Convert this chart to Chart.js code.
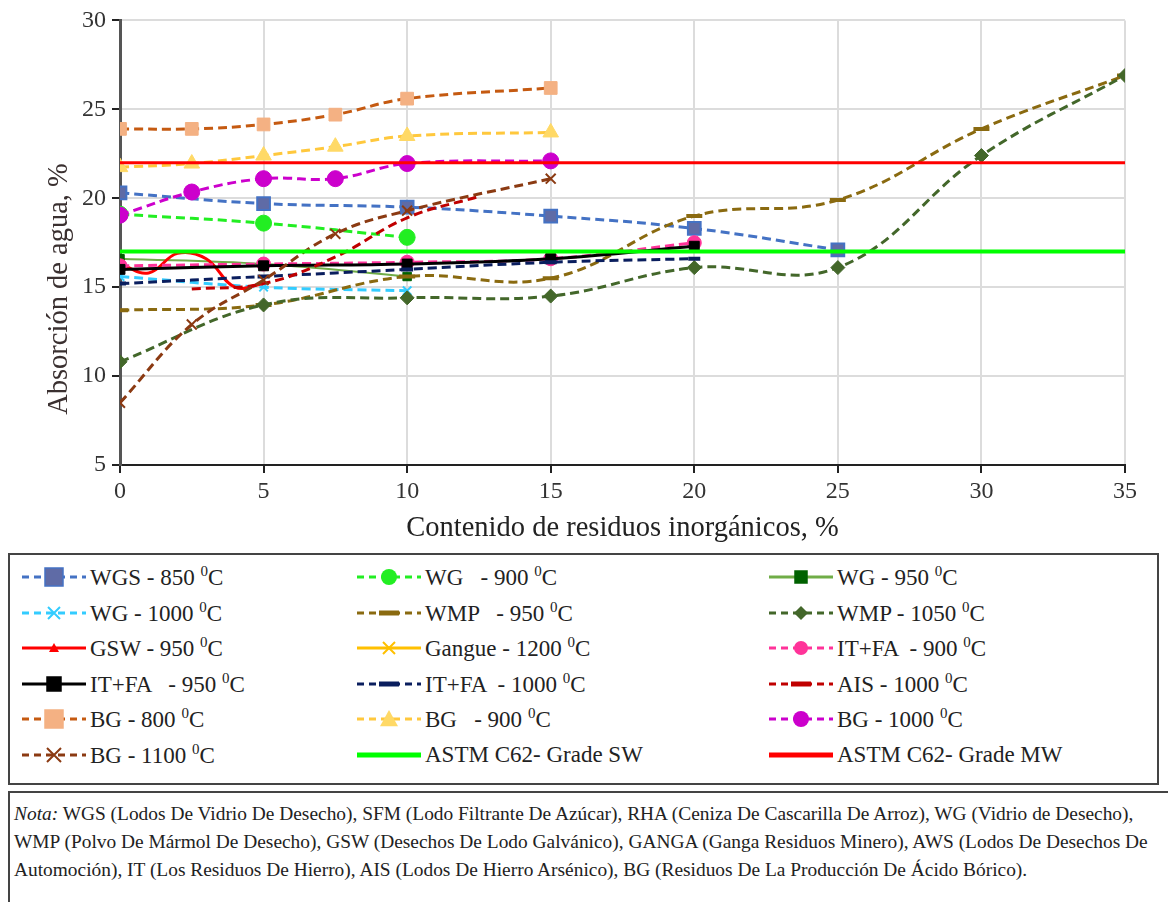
<!DOCTYPE html>
<html>
<head>
<meta charset="utf-8">
<script src="https://cdn.jsdelivr.net/npm/chart.js@4"></script>
<style>
  body { margin: 0; background: #fff; font-family: 'Liberation Serif', 'DejaVu Serif', 'Times New Roman', serif; }
  #wrap { position: absolute; left: 0; top: 0; width: 1171px; height: 550px; }
  #legend { position: absolute; left: 8px; top: 553px; width: 1151px; height: 232px; border: 2px solid #444; box-sizing: border-box; background: #fff; }
  .item { position: absolute; height: 24px; display: flex; align-items: center; font-size: 23px; color: #222; white-space: nowrap; }
  .item svg { margin-right: 2px; }
  sup { font-size: 15px; }
  #nota { position: absolute; left: 8px; top: 791px; width: 1160px; height: 130px; border-left: 2px solid #444; border-top: 2px solid #444; box-sizing: border-box; padding: 7px 0 0 4px; font-size: 19.4px; line-height: 28px; color: #222; white-space: nowrap; }
</style>
</head>
<body>
<div id="wrap"><canvas id="c" width="1171" height="550"></canvas></div>
<div id="legend"></div>
<div id="nota"><i>Nota:</i> WGS (Lodos De Vidrio De Desecho), SFM (Lodo Filtrante De Azúcar), RHA (Ceniza De Cascarilla De Arroz), WG (Vidrio de Desecho),<br>WMP (Polvo De Mármol De Desecho), GSW (Desechos De Lodo Galvánico), GANGA (Ganga Residuos Minero), AWS (Lodos De Desechos De<br>Automoción), IT (Los Residuos De Hierro), AIS (Lodos De Hierro Arsénico), BG (Residuos De La Producción De Ácido Bórico).</div>
<script>
// values
const xWGS850 = [0, 5, 10, 15, 20, 25];
const yWGS850 = [20.3, 19.7, 19.5, 19.0, 18.3, 17.1];
const xWG900 = [0, 5, 10];
const yWG900 = [19.1, 18.6, 17.8];
const xWG950 = [0, 5, 10];
const yWG950 = [16.6, 16.3, 15.6];
const xWG1000 = [0, 5, 10];
const yWG1000 = [15.6, 15.0, 14.8];
const xWMP950 = [0, 5, 10, 15, 20, 25, 30, 35];
const yWMP950 = [13.7, 14.0, 15.6, 15.5, 19.0, 19.9, 23.9, 26.9];
const xWMP1050 = [0, 5, 10, 15, 20, 25, 30, 35];
const yWMP1050 = [10.8, 14.0, 14.4, 14.5, 16.1, 16.1, 22.4, 26.9];
const xGSW950 = [0, 1, 2, 3, 4, 5];
const yGSW950 = [16.3, 15.8, 16.9, 16.6, 15.0, 15.2];
const xGangue = [];
const yGangue = [];
const xITFA900 = [0, 5, 10, 15, 20];
const yITFA900 = [16.2, 16.3, 16.4, 16.6, 17.5];
const xITFA950 = [0, 5, 10, 15, 20];
const yITFA950 = [16.0, 16.2, 16.3, 16.6, 17.3];
const xITFA1000 = [0, 5, 10, 15, 20];
const yITFA1000 = [15.2, 15.6, 16.0, 16.4, 16.6];
const xAIS1000 = [2.5, 5, 7.5, 10, 12.5];
const yAIS1000 = [14.9, 15.2, 16.7, 18.9, 20.1];
const xBG = [0, 2.5, 5, 7.5, 10, 15];
const yBG800 = [23.9, 23.9, 24.15, 24.7, 25.6, 26.2];
const yBG900 = [21.75, 21.95, 22.4, 22.9, 23.5, 23.7];
const yBG1000 = [19.05, 20.35, 21.1, 21.1, 21.95, 22.1];
const yBG1100 = [8.5, 12.9, 15.4, 18.0, 19.3, 21.1];
const xASTM = [0, 35];
const yASTMSW = [17, 17];
const yASTMMW = [22, 22];

const xTicks = [0, 5, 10, 15, 20, 25, 30, 35];
const yTicks = [5, 10, 15, 20, 25, 30];

const pts = (xs, ys) => xs.map((x, i) => ({ x: x, y: ys[i] }));
const dash = [9, 5];

function series(label, xs, ys, color, opts) {
    return Object.assign({
        label: label,
        data: pts(xs, ys),
        borderColor: color,
        backgroundColor: color,
        pointBorderColor: color,
        borderWidth: 3,
        borderDash: dash,
        pointStyle: 'circle',
        pointRadius: 6,
        pointBorderWidth: 1,
        tension: 0.4
    }, opts || {});
}

const datasets = [
    series('WGS - 850 <sup>0</sup>C', xWGS850, yWGS850, '#4472C4', { pointStyle: 'rect', pointRadius: 9, backgroundColor: '#5F6BA6', pointBorderColor: '#4472C4', pointBorderWidth: 2 }),
    series('WG &nbsp;&nbsp;- 900 <sup>0</sup>C', xWG900, yWG900, '#22EE22', { pointRadius: 8 }),
    series('WG - 950 <sup>0</sup>C', xWG950, yWG950, '#70AD47', { borderDash: [], borderWidth: 2, pointStyle: 'rect', pointRadius: 6, backgroundColor: '#006100', pointBorderColor: '#006100' }),
    series('WG - 1000 <sup>0</sup>C', xWG1000, yWG1000, '#33CCFF', { pointStyle: 'crossRot', pointRadius: 6, pointBorderWidth: 2 }),
    series('WMP &nbsp;&nbsp;- 950 <sup>0</sup>C', xWMP950, yWMP950, '#8A6A10', { pointStyle: 'line', pointRadius: 8, pointBorderWidth: 4 }),
    series('WMP - 1050 <sup>0</sup>C', xWMP1050, yWMP1050, '#43672A', { pointStyle: 'rectRot', pointRadius: 7 }),
    series('GSW - 950 <sup>0</sup>C', xGSW950, yGSW950, '#FF0000', { borderDash: [], borderWidth: 3, pointStyle: 'triangle', pointRadius: 0 }),
    series('Gangue - 1200 <sup>0</sup>C', xGangue, yGangue, '#FFC000', { borderDash: [], borderWidth: 2, pointStyle: 'crossRot', pointRadius: 6, pointBorderWidth: 2 }),
    series('IT+FA &nbsp;- 900 <sup>0</sup>C', xITFA900, yITFA900, '#FF3399', { pointRadius: 7 }),
    series('IT+FA &nbsp;&nbsp;- 950 <sup>0</sup>C', xITFA950, yITFA950, '#000000', { borderDash: [], borderWidth: 3, pointStyle: 'rect', pointRadius: 7 }),
    series('IT+FA &nbsp;- 1000 <sup>0</sup>C', xITFA1000, yITFA1000, '#0A1E5E', { pointStyle: 'line', pointRadius: 6, pointBorderWidth: 4 }),
    series('AIS - 1000 <sup>0</sup>C', xAIS1000, yAIS1000, '#C00000', { pointStyle: 'line', pointRadius: 0, pointBorderWidth: 4 }),
    series('BG - 800 <sup>0</sup>C', xBG, yBG800, '#C55A11', { pointStyle: 'rect', pointRadius: 9, backgroundColor: '#F4B183', pointBorderColor: '#F4B183' }),
    series('BG &nbsp;&nbsp;- 900 <sup>0</sup>C', xBG, yBG900, '#FFC83D', { pointStyle: 'triangle', pointRadius: 9, backgroundColor: '#FFD966', pointBorderColor: '#FFD966' }),
    series('BG - 1000 <sup>0</sup>C', xBG, yBG1000, '#CC00CC', { pointRadius: 8 }),
    series('BG - 1100 <sup>0</sup>C', xBG, yBG1100, '#8B3A12', { pointStyle: 'crossRot', pointRadius: 7, pointBorderWidth: 2 }),
    series('ASTM C62- Grade SW', xASTM, yASTMSW, '#00FF00', { borderDash: [], borderWidth: 4, pointRadius: 0, tension: 0 }),
    series('ASTM C62- Grade MW', xASTM, yASTMMW, '#FF0000', { borderDash: [], borderWidth: 3, pointRadius: 0, tension: 0 })
];
// later series are painted on top, like the original
datasets.forEach((d, i) => { d.order = datasets.length - i; });

const serif = "'Liberation Serif', 'DejaVu Serif', 'Times New Roman', serif";
// the y title sits a little below the middle in the original
const yTitle = 'Absorción de agua, %' + '\u00a0'.repeat(13);

new Chart(document.getElementById('c'), {
    type: 'line',
    data: { datasets: datasets },
    options: {
        responsive: false,
        animation: false,
        layout: { padding: { top: 20, right: 46, left: 38, bottom: 0 } },
        plugins: { legend: { display: false }, tooltip: { enabled: false } },
        scales: {
            x: {
                type: 'linear', min: 0, max: 35,
                afterBuildTicks: (s) => { s.ticks = xTicks.map(v => ({ value: v })); },
                afterFit: (s) => { s.height = 85; },
                grid: { color: '#dcdcdc', lineWidth: 2, tickColor: '#222', tickLength: 8 },
                border: { color: '#222', width: 2 },
                ticks: { color: '#333', font: { family: serif, size: 24 }, padding: 4, maxRotation: 0 },
                title: { display: true, text: 'Contenido de residuos inorgánicos, %', color: '#222', font: { family: serif, size: 28.5 }, padding: { top: 6 } }
            },
            y: {
                min: 5, max: 30,
                afterBuildTicks: (s) => { s.ticks = yTicks.map(v => ({ value: v })); },
                afterFit: (s) => { s.width = 82; },
                grid: { color: '#dcdcdc', lineWidth: 2, tickColor: '#222', tickLength: 8 },
                border: { color: '#555', width: 3 },
                ticks: { color: '#333', font: { family: serif, size: 24 }, padding: 6 },
                title: { display: true, text: yTitle, color: '#3a3030', font: { family: serif, size: 28.5 }, padding: { bottom: 4 } }
            }
        }
    }
});

// legend laid out in three columns like the figure
function marker(d, cx, cy) {
    const st = d.pointStyle, r = Math.max(d.pointRadius, 5), fill = d.backgroundColor, stroke = d.pointBorderColor;
    if (st === 'rect') return `<rect x="${cx - r}" y="${cy - r}" width="${2 * r}" height="${2 * r}" fill="${fill}" stroke="${stroke}" stroke-width="1.5"/>`;
    if (st === 'circle') return `<circle cx="${cx}" cy="${cy}" r="${r}" fill="${fill}"/>`;
    if (st === 'triangle') return `<polygon points="${cx},${cy - r} ${cx + r},${cy + r * 0.8} ${cx - r},${cy + r * 0.8}" fill="${fill}"/>`;
    if (st === 'rectRot') return `<polygon points="${cx},${cy - r} ${cx + r},${cy} ${cx},${cy + r} ${cx - r},${cy}" fill="${fill}"/>`;
    if (st === 'crossRot') return `<path d="M${cx - r} ${cy - r}L${cx + r} ${cy + r}M${cx + r} ${cy - r}L${cx - r} ${cy + r}" stroke="${stroke}" stroke-width="2"/>`;
    if (st === 'line') return `<line x1="${cx - 10}" y1="${cy}" x2="${cx + 10}" y2="${cy}" stroke="${stroke}" stroke-width="5"/>`;
    return '';
}
const colX = [10, 345, 757];
const legend = document.getElementById('legend');
datasets.forEach((d, i) => {
    const col = i % 3, row = Math.floor(i / 3);
    const dashAttr = d.borderDash.length ? ' stroke-dasharray="7 5"' : '';
    const isStd = d.label.indexOf('ASTM') === 0;
    const svg = `<svg width="68" height="24"><line x1="2" y1="12" x2="66" y2="12" stroke="${d.borderColor}" stroke-width="${isStd ? 5 : 3}"${dashAttr}/>${isStd ? '' : marker(d, 34, 12)}</svg>`;
    const el = document.createElement('div');
    el.className = 'item';
    el.style.left = colX[col] + 'px';
    el.style.top = (10 + row * 35.5) + 'px';
    el.innerHTML = svg + '<span>' + d.label + '</span>';
    legend.appendChild(el);
});
</script>
</body>
</html>
